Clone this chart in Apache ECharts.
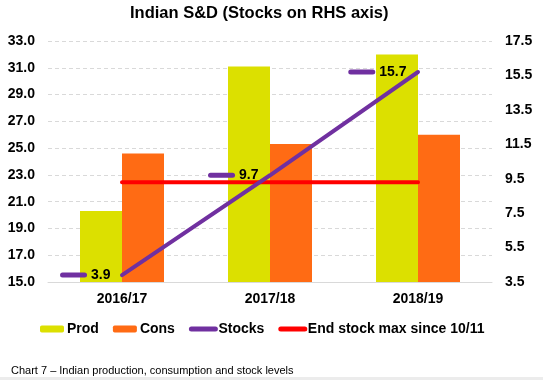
<!DOCTYPE html>
<html><head><meta charset="utf-8">
<script src="https://cdn.jsdelivr.net/npm/echarts@6.0.0/dist/echarts.min.js"></script>
<style>html,body{margin:0;padding:0;background:#fff}#c{width:543px;height:380px}</style>
</head><body><div id="c"></div>
<script>
const categories = ['2016/17', '2017/18', '2018/19'];
const prod = [20.3, 31.1, 32.0];
const cons = [24.6, 25.3, 26.0];
const stocks = [3.9, 9.7, 15.7];
const endStockMax = [9.3, 9.3, 9.3];
const leftAxisRange = [15, 33, 2];
const rightAxisRange = [3.5, 17.5, 2];

const FONT = "'Liberation Sans', Arial, sans-serif";
const PURPLE = '#7030A0';
const chart = echarts.init(document.getElementById('c'), null, {renderer: 'canvas'});
chart.setOption({
  animation: false,
  backgroundColor: '#fff',
  title: {
    text: 'Indian S&D (Stocks on RHS axis)',
    left: 130, top: 5, padding: 0,
    textStyle: {fontFamily: FONT, fontSize: 16.5, fontWeight: 'bold', color: '#000'}
  },
  grid: {left: 48, right: 51, top: 41, bottom: 98},
  legend: {
    left: 40, top: 322, padding: 0,
    itemWidth: 24, itemHeight: 7, itemGap: 14,
    textStyle: {fontFamily: FONT, fontSize: 14, fontWeight: 'bold', color: '#000', padding: [0,0,0,-2]},
    data: ['Prod', 'Cons',
      {name: 'Stocks', itemStyle: {opacity: 0}, lineStyle: {width: 5, cap: 'round'}},
      {name: 'End stock max since 10/11', itemStyle: {opacity: 0}, lineStyle: {width: 5, cap: 'round'}}]
  },
  xAxis: {
    type: 'category', data: categories,
    axisLine: {lineStyle: {color: '#d9d9d9', width: 1}},
    axisTick: {show: false},
    axisLabel: {fontFamily: FONT, fontSize: 14, fontWeight: 'bold', color: '#000', margin: 10}
  },
  yAxis: [{
    type: 'value', min: leftAxisRange[0], max: leftAxisRange[1], interval: leftAxisRange[2],
    axisLine: {show: false}, axisTick: {show: false},
    splitLine: {lineStyle: {color: '#d9d9d9', type: [4, 3], width: 1}},
    axisLabel: {fontFamily: FONT, fontSize: 14, fontWeight: 'bold', color: '#000', margin: 13,
      formatter: v => v.toFixed(1)}
  }, {
    type: 'value', position: 'right',
    min: rightAxisRange[0], max: rightAxisRange[1], interval: rightAxisRange[2],
    axisLine: {show: false}, axisTick: {show: false}, splitLine: {show: false},
    axisLabel: {fontFamily: FONT, fontSize: 14, fontWeight: 'bold', color: '#000', margin: 13,
      formatter: v => v.toFixed(1)}
  }],
  series: [{
    name: 'Prod', type: 'bar', data: prod, yAxisIndex: 0,
    barWidth: 42, barGap: '0%',
    itemStyle: {color: '#DCE000'}
  }, {
    name: 'Cons', type: 'bar', data: cons, yAxisIndex: 0,
    barWidth: 42,
    itemStyle: {color: '#FF6B14'}
  }, {
    name: 'End stock max since 10/11', type: 'line', data: endStockMax, yAxisIndex: 1,
    symbol: 'none', z: 3,
    lineStyle: {color: '#FF0000', width: 4, cap: 'round'},
    itemStyle: {color: '#FF0000'}
  }, {
    name: 'Stocks', type: 'line', data: stocks, yAxisIndex: 1,
    symbol: 'circle', symbolSize: 1, showSymbol: true, z: 4,
    lineStyle: {color: PURPLE, width: 4, cap: 'round'},
    itemStyle: {color: PURPLE},
    label: {
      show: true, position: 'left', distance: 11,
      formatter: p => '{d|}{v|' + p.value.toFixed(1) + '}',
      rich: {
        d: {backgroundColor: PURPLE, width: 27, height: 5, borderRadius: 2.5},
        v: {fontFamily: FONT, fontSize: 14, fontWeight: 'bold', color: '#000', padding: [0, 0, 0, 4]}
      }
    }
  }],
  graphic: [{
    type: 'text', left: 11, top: 365,
    style: {text: 'Chart 7 \u2013 Indian production, consumption and stock levels',
      fontFamily: FONT, fontSize: 11, fill: '#000'}
  }, {
    type: 'rect', left: 0, top: 377, shape: {width: 543, height: 3}, style: {fill: '#ececec'}
  }]
});
</script></body></html>
